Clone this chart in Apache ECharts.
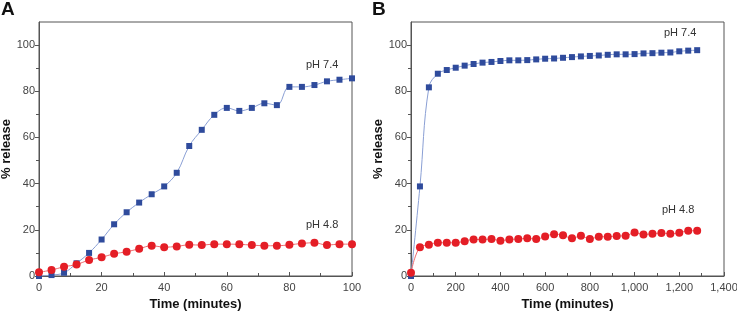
<!DOCTYPE html>
<html>
<head>
<meta charset="utf-8">
<script src="https://cdn.jsdelivr.net/npm/echarts@6/dist/echarts.min.js"></script>
<style>
  html, body { margin: 0; padding: 0; background: #fff; }
  #chart { width: 737px; height: 311px; }
</style>
</head>
<body>
<div id="chart"></div>
<script>
// panel A, sampled every 4 minutes
var timeA = [0, 4, 8, 12, 16, 20, 24, 28, 32, 36, 40, 44, 48, 52, 56, 60, 64, 68, 72, 76, 80, 84, 88, 92, 96, 100];
var relA74 = [0, 0.4, 1.4, 5.5, 10, 15.8, 22.4, 27.6, 31.8, 35.4, 38.8, 44.7, 56.3, 63.3, 69.8, 72.8, 71.5, 72.8, 74.8, 74.0, 81.9, 81.9, 82.7, 84.3, 85.0, 85.6];
var relA48 = [1.6, 2.6, 4.0, 5.0, 6.9, 8.1, 9.6, 10.5, 11.8, 13.1, 12.5, 12.8, 13.5, 13.4, 13.8, 13.8, 13.7, 13.4, 13.1, 13.1, 13.5, 14.1, 14.4, 13.4, 13.8, 13.8];

// panel B, sampled every 40 minutes
var timeB = [0, 40, 80, 120, 160, 200, 240, 280, 320, 360, 400, 440, 480, 520, 560, 600, 640, 680, 720, 760, 800, 840, 880, 920, 960, 1000, 1040, 1080, 1120, 1160, 1200, 1240, 1280];
var relB74 = [0, 38.8, 81.7, 87.6, 89.2, 90.2, 91.1, 91.8, 92.4, 92.7, 93.1, 93.4, 93.4, 93.5, 93.8, 94.1, 94.2, 94.5, 94.8, 95.1, 95.3, 95.5, 95.8, 96.0, 96.0, 96.1, 96.4, 96.5, 96.7, 96.8, 97.3, 97.6, 97.8];
var relB48 = [1.4, 12.5, 13.5, 14.4, 14.4, 14.4, 15.1, 15.8, 15.8, 16.0, 15.3, 15.8, 16.0, 16.3, 16.0, 17.1, 18.1, 17.7, 16.3, 17.4, 16.0, 17.0, 17.0, 17.3, 17.4, 18.8, 18.0, 18.3, 18.6, 18.3, 18.7, 19.6, 19.6];

var yTicks = [0, 20, 40, 60, 80, 100];

var FONT = 'Liberation Sans';
var AXIS_COLOR = '#555';

function pairs(xs, ys) {
    var out = [];
    for (var i = 0; i < xs.length; i++) {
        out.push([xs[i], ys[i]]);
    }
    return out;
}

function fmtComma(v) {
    return String(v).replace(/\B(?=(\d{3})+(?!\d))/g, ',');
}

function xAxisOpt(idx, max, interval, comma) {
    return {
        type: 'value',
        gridIndex: idx,
        min: 0,
        max: max,
        interval: interval,
        name: 'Time (minutes)',
        nameLocation: 'middle',
        nameGap: 21,
        nameTextStyle: { fontFamily: FONT, fontSize: 13, fontWeight: 'bold', color: '#111' },
        axisLine: { lineStyle: { color: AXIS_COLOR, width: 1 } },
        axisTick: { inside: true, length: 4, lineStyle: { color: AXIS_COLOR } },
        minorTick: { show: true, splitNumber: 2, length: 3, lineStyle: { color: AXIS_COLOR } },
        axisLabel: {
            fontFamily: FONT, fontSize: 11, color: '#444', margin: 6,
            formatter: function (v) { return comma ? fmtComma(v) : String(v); }
        },
        splitLine: { show: false }
    };
}

function yAxisOpt(idx) {
    return {
        type: 'value',
        gridIndex: idx,
        min: 0,
        max: 110,
        interval: 20,
        name: '% release',
        nameLocation: 'middle',
        nameGap: 26,
        nameTextStyle: { fontFamily: FONT, fontSize: 13, fontWeight: 'bold', color: '#111' },
        axisLine: { show: true, lineStyle: { color: AXIS_COLOR, width: 1 } },
        axisTick: { show: true, inside: false, length: 4, customValues: yTicks, lineStyle: { color: AXIS_COLOR } },
        minorTick: { show: true, splitNumber: 2, length: 3, lineStyle: { color: AXIS_COLOR } },
        axisLabel: { fontFamily: FONT, fontSize: 11, color: '#444', margin: 4, customValues: yTicks },
        splitLine: { show: false }
    };
}

function blueSeries(idx, xs, ys, size) {
    return {
        type: 'line',
        xAxisIndex: idx,
        yAxisIndex: idx,
        data: pairs(xs, ys),
        smooth: 0.4,
        symbol: 'rect',
        symbolSize: size,
        lineStyle: { color: '#8a9fd4', width: 1 },
        itemStyle: { color: '#2f4b9c' },
        z: 2
    };
}

function redSeries(idx, xs, ys, size) {
    return {
        type: 'line',
        xAxisIndex: idx,
        yAxisIndex: idx,
        data: pairs(xs, ys),
        smooth: 0.4,
        symbol: 'circle',
        symbolSize: size,
        lineStyle: { color: '#ef6b6f', width: 1 },
        itemStyle: { color: '#e41e26' },
        z: 3
    };
}

var chart = echarts.init(document.getElementById('chart'), null, { renderer: 'canvas' });

chart.setOption({
    animation: false,
    backgroundColor: '#fff',
    grid: [
        { left: 39, top: 22, width: 313, height: 254, outerBoundsMode: 'none', show: true, borderColor: AXIS_COLOR, borderWidth: 1, backgroundColor: 'transparent' },
        { left: 411, top: 22, width: 313, height: 254, outerBoundsMode: 'none', show: true, borderColor: AXIS_COLOR, borderWidth: 1, backgroundColor: 'transparent' }
    ],
    xAxis: [
        xAxisOpt(0, 100, 20, false),
        xAxisOpt(1, 1400, 200, true)
    ],
    yAxis: [
        yAxisOpt(0),
        yAxisOpt(1)
    ],
    series: [
        blueSeries(0, timeA, relA74, 6),
        redSeries(0, timeA, relA48, 8),
        blueSeries(1, timeB, relB74, 6),
        redSeries(1, timeB, relB48, 8)
    ],
    graphic: [
        { type: 'text', left: 1, top: 0, style: { text: 'A', font: 'bold 19px "Liberation Sans"', fill: '#111' } },
        { type: 'text', left: 372, top: 0, style: { text: 'B', font: 'bold 19px "Liberation Sans"', fill: '#111' } },
        { type: 'text', left: 306, top: 59, style: { text: 'pH 7.4', font: '11px "Liberation Sans"', fill: '#333' } },
        { type: 'text', left: 306, top: 219, style: { text: 'pH 4.8', font: '11px "Liberation Sans"', fill: '#333' } },
        { type: 'text', left: 664, top: 27, style: { text: 'pH 7.4', font: '11px "Liberation Sans"', fill: '#333' } },
        { type: 'text', left: 662, top: 204, style: { text: 'pH 4.8', font: '11px "Liberation Sans"', fill: '#333' } }
    ]
});
</script>
</body>
</html>
